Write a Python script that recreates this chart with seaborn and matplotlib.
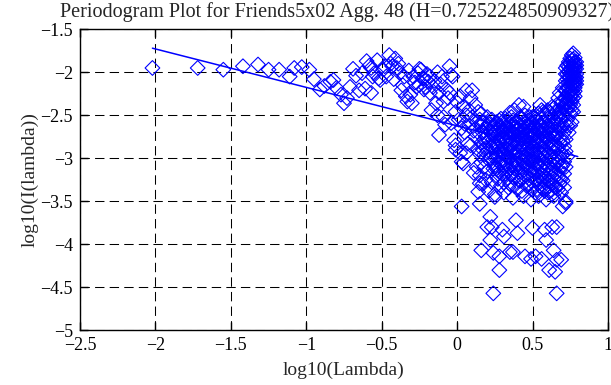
import numpy as np
import pandas as pd
import matplotlib
matplotlib.use("Agg")
import matplotlib.pyplot as plt
import seaborn as sns

# log10(lambda) / log10(I(lambda)) values
# sparse low-frequency part
freq_low = [-2.02, -1.72, -1.55, -1.42, -1.32, -1.25, -1.18, -1.11, -1.08, -1.03,
            -0.98, -0.95, -0.91, -0.88, -0.84, -0.82, -0.80, -0.77, -0.75, -0.73,
            -0.71, -0.69, -0.67, -0.65, -0.63, -0.61, -0.60, -0.58, -0.57, -0.57,
            -0.56, -0.55, -0.53, -0.52, -0.51, -0.49, -0.48, -0.47, -0.45, -0.44,
            -0.43, -0.42, -0.41, -0.40, -0.39, -0.38, -0.37, -0.36, -0.35, -0.34,
            -0.33, -0.32, -0.31]
power_low = [-1.95, -1.95, -1.97, -1.93, -1.91, -1.97, -1.97, -2.05, -1.95, -1.94,
             -1.97, -2.08, -2.20, -2.16, -2.11, -2.09, -2.18, -2.26, -2.36, -2.30,
             -2.17, -1.96, -2.04, -2.21, -2.01, -2.19, -1.87, -1.92, -1.95, -2.24,
             -2.05, -2.01, -1.86, -2.07, -2.09, -1.97, -1.93, -2.05, -1.80, -1.90,
             -1.93, -2.08, -1.84, -1.95, -1.90, -2.01, -2.21, -2.15, -2.05, -2.28,
             -2.34, -1.98, -2.26]

# transition part
freq_mid = [-0.30, -0.29, -0.28, -0.27, -0.26, -0.25, -0.25, -0.24, -0.23, -0.22,
            -0.22, -0.21, -0.20, -0.19, -0.18, -0.18, -0.17, -0.16, -0.15, -0.14,
            -0.13, -0.13, -0.12, -0.12, -0.11, -0.10, -0.09, -0.09, -0.08, -0.07,
            -0.06, -0.05, -0.05, -0.04, -0.04, -0.03, -0.02, -0.01, -0.01, 0.00,
            0.01, 0.02, 0.02, 0.03, 0.03, 0.04, 0.04, 0.05, 0.06, 0.06,
            0.06, 0.07, 0.08, 0.08, 0.09, 0.10, 0.10, 0.11, 0.12, 0.12,
            0.13, 0.13, 0.14, 0.14, 0.14, 0.15, -0.01, 0.05, 0.09, 0.11]
power_mid = [-2.36, -2.05, -2.12, -2.17, -2.01, -2.15, -1.96, -1.97, -2.07, -2.07,
             -2.20, -2.17, -2.02, -2.11, -2.24, -2.05, -2.44, -2.17, -2.10, -2.36,
             -2.50, -2.00, -2.24, -2.73, -2.14, -2.05, -2.34, -2.52, -2.61, -2.20,
             -2.30, -1.93, -2.24, -2.03, -2.59, -2.05, -2.79, -2.46, -2.90, -2.35,
             -2.55, -2.94, -2.28, -2.65, -3.04, -3.06, -2.40, -2.70, -2.21, -2.50,
             -2.94, -2.83, -2.44, -2.62, -2.30, -2.52, -2.21, -2.68, -2.75, -2.38,
             -3.10, -2.58, -2.46, -2.90, -3.39, -3.29, -2.85, -2.60, -2.85, -3.17]

# dense block, 0.15 .. 0.29
freq_core_a = [0.15] * 4 + [0.16] * 4 + [0.17] * 4 + [0.18] * 4 + [0.19] * 4 + \
              [0.20] * 4 + [0.21] * 4 + [0.22] * 4 + [0.23] * 4 + [0.24] * 4 + \
              [0.25] * 4 + [0.26] * 4 + [0.27] * 4 + [0.28] * 4 + [0.29] * 4
power_core_a = [-2.55, -2.95, -3.20, -2.72,  -2.62, -3.05, -2.82, -2.48,
                -2.70, -2.90, -3.30, -2.58,  -2.58, -3.10, -2.78, -2.96,
                -2.75, -3.25, -2.64, -2.88,  -2.66, -2.92, -3.15, -2.52,
                -2.80, -3.02, -2.60, -3.38,  -2.60, -3.00, -2.85, -2.70,
                -2.72, -3.28, -2.94, -2.55,  -2.88, -2.68, -3.12, -2.78,
                -2.62, -3.08, -2.84, -3.42,  -2.74, -2.96, -2.58, -3.20,
                -2.86, -3.14, -2.66, -2.98,  -2.56, -2.80, -3.05, -2.70,
                -2.92, -3.32, -2.64, -2.76]

# dense block, 0.30 .. 0.49
freq_core_b = [0.30] * 5 + [0.31] * 5 + [0.32] * 5 + [0.33] * 5 + [0.34] * 5 + \
              [0.35] * 5 + [0.36] * 5 + [0.37] * 5 + [0.38] * 5 + [0.39] * 5 + \
              [0.40] * 5 + [0.41] * 5 + [0.42] * 5 + [0.43] * 5 + [0.44] * 5 + \
              [0.45] * 5 + [0.46] * 5 + [0.47] * 5 + [0.48] * 5 + [0.49] * 5
power_core_b = [-2.58, -2.75, -2.94, -3.18, -2.84,  -2.68, -3.02, -2.86, -3.40, -2.62,
                -2.54, -2.80, -3.10, -2.96, -2.72,  -2.66, -2.90, -3.24, -2.78, -3.06,
                -2.60, -2.84, -2.98, -3.14, -2.70,  -2.47, -2.76, -3.00, -3.30, -2.88,
                -2.62, -2.92, -2.70, -3.18, -2.82,  -2.56, -2.80, -3.08, -2.96, -3.46,
                -2.44, -2.72, -2.88, -3.12, -2.64,  -2.68, -2.94, -3.22, -2.80, -3.02,
                -2.58, -2.84, -3.06, -2.74, -3.36,  -2.38, -2.66, -2.92, -3.16, -2.86,
                -2.62, -2.78, -3.00, -3.26, -2.70,  -2.54, -2.88, -3.10, -2.96, -2.76,
                -2.40, -2.68, -2.84, -3.04, -3.44,  -2.60, -2.80, -2.98, -3.20, -2.72,
                -2.66, -2.90, -3.12, -2.78, -3.32,  -2.56, -2.74, -2.94, -3.06, -2.86,
                -2.62, -2.82, -3.02, -3.24, -2.70,  -2.58, -2.76, -2.92, -3.14, -3.48]

# dense block, 0.50 .. 0.72
freq_core_c = [0.50] * 6 + [0.51] * 6 + [0.52] * 6 + [0.53] * 6 + [0.54] * 6 + \
              [0.55] * 6 + [0.56] * 6 + [0.57] * 6 + [0.58] * 6 + [0.59] * 6 + \
              [0.60] * 6 + [0.61] * 6 + [0.62] * 6 + [0.63] * 6 + [0.64] * 6 + \
              [0.65] * 6 + [0.66] * 6 + [0.67] * 6 + [0.68] * 6 + [0.69] * 6 + \
              [0.70] * 6 + [0.71] * 6 + [0.72] * 6
power_core_c = [-2.60, -2.74, -2.88, -3.04, -3.20, -2.96,
                -2.52, -2.70, -2.84, -3.00, -3.30, -2.92,
                -2.64, -2.80, -2.96, -3.12, -2.72, -3.40,
                -2.56, -2.76, -2.90, -3.08, -3.24, -2.84,
                -2.48, -2.66, -2.82, -2.98, -3.16, -3.44,
                -2.38, -2.62, -2.78, -2.94, -3.10, -3.28,
                -2.54, -2.72, -2.86, -3.02, -3.18, -2.64,
                -2.46, -2.68, -2.80, -2.96, -3.14, -3.36,
                -2.58, -2.74, -2.90, -3.06, -3.22, -2.82,
                -2.50, -2.66, -2.84, -3.00, -3.12, -3.48,
                -2.44, -2.62, -2.78, -2.94, -3.08, -3.26,
                -2.56, -2.72, -2.88, -3.04, -3.20, -2.66,
                -2.48, -2.64, -2.82, -2.98, -3.16, -3.38,
                -2.52, -2.70, -2.86, -3.02, -3.12, -3.30,
                -2.42, -2.60, -2.76, -2.92, -3.08, -3.44,
                -2.46, -2.66, -2.84, -3.00, -3.18, -2.74,
                -2.38, -2.58, -2.74, -2.90, -3.06, -3.34,
                -2.30, -2.52, -2.70, -2.88, -3.04, -3.22,
                -2.24, -2.46, -2.64, -2.82, -2.98, -3.14,
                -2.36, -2.56, -2.76, -2.94, -3.10, -3.40,
                -2.18, -2.42, -2.62, -2.80, -2.96, -3.26,
                -2.30, -2.50, -2.70, -2.86, -3.04, -3.18,
                -2.22, -2.44, -2.60, -2.78, -2.92, -3.50]

# further points filling the dense block, 0.25 .. 0.73
freq_core_d = [0.25] * 2 + [0.26] * 2 + [0.27] * 2 + [0.28] * 2 + [0.29] * 2 + \
              [0.30] * 2 + [0.31] * 2 + [0.32] * 2 + [0.33] * 2 + [0.34] * 2 + \
              [0.35] * 2 + [0.36] * 2 + [0.37] * 2 + [0.38] * 2 + [0.39] * 2 + \
              [0.40] * 2 + [0.41] * 2 + [0.42] * 2 + [0.43] * 2 + [0.44] * 2 + \
              [0.45] * 2 + [0.46] * 2 + [0.47] * 2 + [0.48] * 2 + [0.49] * 2 + \
              [0.50] * 2 + [0.51] * 2 + [0.52] * 2 + [0.53] * 2 + [0.54] * 2 + \
              [0.55] * 2 + [0.56] * 2 + [0.57] * 2 + [0.58] * 2 + [0.59] * 2 + \
              [0.60] * 2 + [0.61] * 2 + [0.62] * 2 + [0.63] * 2 + [0.64] * 2 + \
              [0.65] * 2 + [0.66] * 2 + [0.67] * 2 + [0.68] * 2 + [0.69] * 2 + \
              [0.70] * 2 + [0.71] * 2 + [0.72] * 2 + [0.73] * 2
power_core_d = [-2.70, -3.00, -2.86, -3.12, -2.60, -3.24, -2.92, -3.16, -2.54, -3.02,
                -2.68, -3.08, -2.78, -3.28, -2.64, -3.18, -2.56, -2.98, -2.76, -3.34,
                -2.66, -3.12, -2.52, -3.04, -2.70, -3.22, -2.94, -3.32, -2.58, -3.10,
                -2.66, -2.96, -2.76, -3.26, -2.52, -3.14, -2.68, -3.38, -2.58, -3.22,
                -2.50, -3.08, -2.74, -3.00, -2.64, -3.30, -2.52, -3.12, -2.68, -3.02,
                -2.52, -3.36, -2.62, -3.16, -2.54, -3.26, -2.66, -3.36, -2.58, -3.06,
                -2.70, -3.22, -2.44, -3.34, -2.58, -3.26, -2.48, -3.38, -2.74, -3.24,
                -2.54, -3.40, -2.46, -3.32, -2.72, -3.26, -2.40, -3.42, -2.68, -3.24,
                -2.56, -3.34, -2.46, -3.20, -2.62, -3.36, -2.54, -3.30, -2.46, -3.24,
                -2.34, -3.08, -2.40, -3.34, -2.36, -3.10, -2.62, -2.98]

# high-frequency spike at the right edge
freq_spike = [0.72] * 6 + [0.73] * 8 + [0.74] * 10 + [0.75] * 11 + [0.76] * 12 + \
             [0.77] * 13 + [0.78] * 11 + [0.79] * 7
power_spike = [-1.95, -2.10, -2.30, -2.02, -2.20, -2.38,
               -1.92, -2.02, -2.18, -2.36, -2.55, -2.08, -2.26, -2.44,
               -1.88, -2.00, -2.12, -2.24, -2.40, -2.70, -1.94, -2.06, -2.18, -2.32,
               -1.84, -1.96, -2.06, -2.16, -2.28, -2.48, -2.62, -1.90, -2.02, -2.22, -2.38,
               -1.86, -1.94, -2.04, -2.14, -2.22, -2.34, -2.58, -1.80, -1.99, -2.10, -2.28, -2.44,
               -1.78, -1.90, -1.98, -2.08, -2.20, -2.30, -2.46, -1.85, -1.94, -2.04, -2.14, -2.24, -2.38,
               -1.83, -1.92, -2.00, -2.10, -2.18, -2.28, -1.88, -1.96, -2.06, -2.14, -2.22,
               -1.88, -1.96, -2.06, -2.14, -1.92, -2.02, -2.10]

# low outliers
freq_tail = [0.03, 0.15, 0.22, 0.23, 0.30, 0.39, 0.40, 0.22, 0.16, 0.24,
             0.28, 0.35, 0.28, 0.45, 0.50, 0.49, 0.52, 0.56, 0.59, 0.64,
             0.66, 0.65, 0.24, 0.66, 0.70, 0.72, 0.25, 0.31, 0.20, 0.63,
             0.58, 0.69, 0.61, 0.66, 0.37]
power_tail = [-3.56, -3.53, -3.68, -3.80, -3.83, -3.72, -3.87, -3.95, -4.07, -4.10,
              -4.14, -4.09, -4.30, -4.14, -3.81, -4.17, -4.14, -4.17, -3.95, -4.07,
              -4.18, -4.32, -4.57, -4.57, -3.56, -3.52, -3.45, -3.91, -3.80, -3.80,
              -3.83, -4.18, -4.30, -3.80, -4.09]

# least-squares line shown in the plot (endpoints)
fit_x = [-2.02, 0.80]
fit_y = [-1.72, -2.98]

title = "Periodogram Plot for Friends5x02 Agg. 48 (H=0.725224850909327)"

df = pd.DataFrame({
    "freq": freq_low + freq_mid + freq_core_a + freq_core_b + freq_core_c
            + freq_core_d + freq_spike + freq_tail,
    "power": power_low + power_mid + power_core_a + power_core_b + power_core_c
             + power_core_d + power_spike + power_tail,
})

sns.set_style("ticks")
plt.rcParams["font.family"] = ["Liberation Serif", "DejaVu Serif"]

fig, ax = plt.subplots(figsize=(6.11, 3.85), dpi=100)
fig.subplots_adjust(left=0.131, right=0.995, bottom=0.142, top=0.924)

sns.scatterplot(data=df, x="freq", y="power", ax=ax, marker="D", s=56,
                facecolors="none", edgecolor="#0000ff", linewidth=0.8, zorder=3)
sns.lineplot(x=fit_x, y=fit_y, ax=ax, color="#0000ff", linewidth=1.1, zorder=4)

ax.set_xlim(-2.5, 1)
ax.set_ylim(-5, -1.5)
ax.set_xticks(np.arange(-2.5, 1.01, 0.5))
ax.set_yticks(np.arange(-5, -1.49, 0.5))
minus_fmt = matplotlib.ticker.FuncFormatter(lambda v, _: f"{v:g}".replace("-", "\u2212"))
ax.xaxis.set_major_formatter(minus_fmt)
ax.yaxis.set_major_formatter(minus_fmt)
ax.grid(True, color="black", linestyle=(0, (9, 5)), linewidth=0.75)
ax.tick_params(direction="in", length=6, width=1, top=True, right=True,
               labelsize=13, colors="black", pad=5)
for sp in ax.spines.values():
    sp.set_linewidth(1)
    sp.set_color("black")

ax.set_xlabel("log10(Lambda)", fontsize=14, labelpad=5)
ax.set_ylabel("log10(I(lambda))", fontsize=14, labelpad=1)
ax.set_title(title, fontsize=14.5, pad=9, loc="left", x=-0.038)

fig.savefig("out.png", dpi=100)
